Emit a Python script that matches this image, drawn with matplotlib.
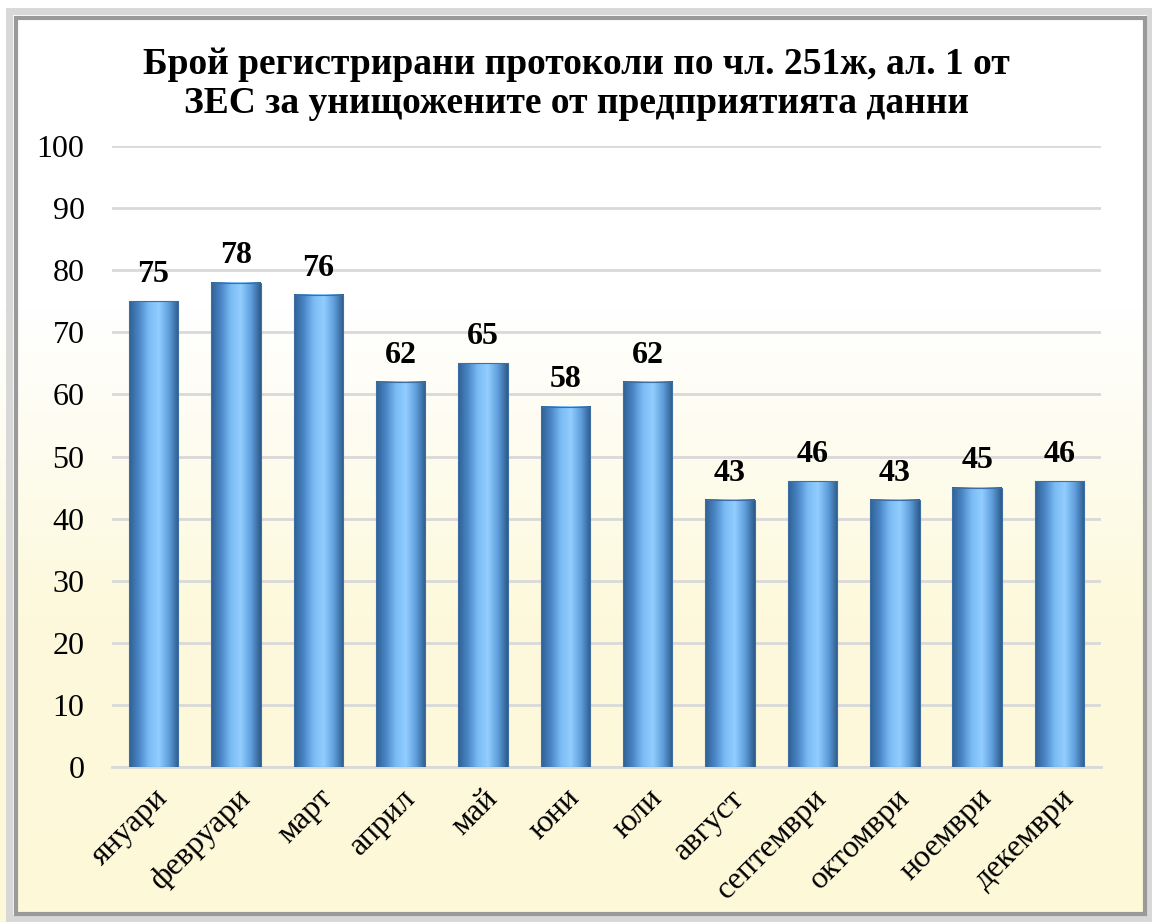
import numpy as np
import matplotlib.pyplot as plt
from matplotlib.colors import LinearSegmentedColormap
from matplotlib.patches import Rectangle

months = ["януари", "февруари", "март", "април", "май", "юни",
          "юли", "август", "септември", "октомври", "ноември", "декември"]
counts = [75, 78, 76, 62, 65, 58, 62, 43, 46, 43, 45, 46]
y_ticks = [0, 10, 20, 30, 40, 50, 60, 70, 80, 90, 100]
title = "Брой регистрирани протоколи по чл. 251ж, ал. 1 от\nЗЕС за унищожените от предприятията данни"

plt.rcParams['font.family'] = ['Liberation Serif', 'DejaVu Serif']

fig = plt.figure(figsize=(11.52, 9.22), dpi=100)

# background gradient (white -> pale yellow)
bg = fig.add_axes([0, 0, 1, 1], zorder=-10)
grad = np.linspace(0, 1, 256).reshape(-1, 1)
bg_cmap = LinearSegmentedColormap.from_list("bg", ["#ffffff", "#ffffff", "#fdf9dc", "#fdf8d8"])
bg.imshow(grad, aspect="auto", cmap=bg_cmap, extent=[0, 1, 0, 1], origin="upper")
bg.set_xlim(0, 1)
bg.set_ylim(0, 1)
bg.axis("off")

# frame
W, H = 1152, 922
def frac_rect(x0, y0, x1, y1, **kw):
    return Rectangle((x0 / W, 1 - y1 / H), (x1 - x0) / W, (y1 - y0) / H,
                     transform=fig.transFigure, fill=False, **kw)
fig.patches.append(frac_rect(9, 11, 1150, 918, lw=5, edgecolor="#d8d8d8"))
fig.patches.append(frac_rect(16, 18, 1145, 914, lw=3, edgecolor="#9a9a9a"))

ax = fig.add_axes([0.0975, 0.168, 0.858, 0.6737])
ax.set_facecolor("none")
x = np.arange(len(months))
bars = ax.bar(x, counts, width=0.6, color="none", zorder=3)

bar_cmap = LinearSegmentedColormap.from_list(
    "bar", ["#2f5f92", "#4a86c6", "#7bbcf5", "#92cdff", "#5f9fdc", "#2c5a8a"])
hgrad = np.linspace(0, 1, 256).reshape(1, -1)
for b in bars:
    x0, w, h = b.get_x(), b.get_width(), b.get_height()
    ax.imshow(hgrad, aspect="auto", cmap=bar_cmap, extent=[x0, x0 + w, 0, h], zorder=3)
    ax.add_patch(Rectangle((x0, 0), w, h, fill=False, edgecolor="#3d6fa5", lw=0.8, zorder=4))
    ax.text(x0 + w / 2, h + 2.0, str(int(h)), ha="center", va="bottom",
            fontsize=23, fontweight="bold", zorder=5)

ax.set_xlim(-0.5, len(months) - 0.5)
ax.set_ylim(0, 100)
ax.set_yticks(y_ticks)
ax.set_xticks(x)
ax.set_xticklabels(months, rotation=45, ha="right", rotation_mode="anchor", fontsize=23)
ax.tick_params(axis="y", labelsize=23, length=0, pad=20)
ax.tick_params(axis="x", length=0, pad=12)
ax.grid(axis="y", color="#d9d9d9", lw=2, zorder=0)
for s in ["top", "right", "left"]:
    ax.spines[s].set_visible(False)
ax.spines["bottom"].set_color("#d9d9d9")
ax.spines["bottom"].set_linewidth(2)

fig.text(0.5, 0.909, title, ha="center", va="center", fontsize=27,
         fontweight="bold", linespacing=1.15)

fig.savefig("out.png", dpi=100)
